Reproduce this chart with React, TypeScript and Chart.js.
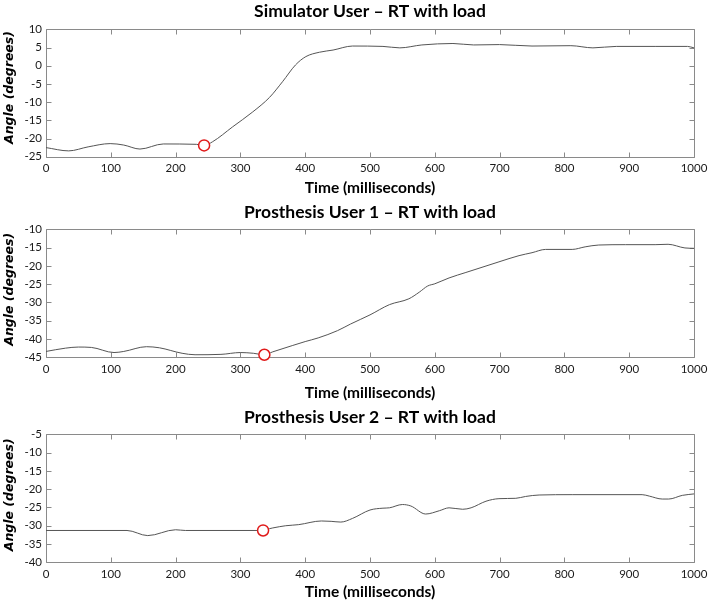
import React, { useEffect, useRef } from "react";
import { Chart, registerables } from "chart.js";

Chart.register(...registerables);

// ---------- data ----------
const xTickValues = [0, 100, 200, 300, 400, 500, 600, 700, 800, 900, 1000];

const simTime = [0, 35, 65, 99, 120, 145, 181, 232, 244, 257, 288, 319, 345, 365, 385, 401, 422, 443, 473, 520, 546, 580, 628, 660, 700, 750, 810, 844, 880, 940, 990, 1000];
const simAngle = [-22.5, -23.4, -22.3, -21.4, -21.8, -22.9, -21.5, -21.6, -21.9, -20.9, -16.8, -12.7, -8.7, -4.4, 0.2, 2.5, 3.7, 4.3, 5.4, 5.3, 4.9, 5.7, 6.1, 5.7, 5.8, 5.4, 5.5, 4.9, 5.3, 5.3, 5.3, 4.9];
const simMarker = [244, -21.9];

const p1Time = [0, 30, 50, 70, 105, 120, 155, 175, 210, 230, 270, 300, 320, 337, 350, 380, 400, 420, 450, 470, 500, 530, 560, 576, 589, 600, 622, 648, 699, 730, 750, 771, 812, 832, 853, 894, 940, 960, 986, 1000];
const p1Angle = [-43.4, -42.5, -42.2, -42.3, -43.7, -43.4, -42.1, -42.4, -43.9, -44.3, -44.2, -43.7, -43.9, -44.3, -43.5, -41.8, -40.7, -39.7, -37.7, -35.9, -33.4, -30.6, -29.0, -27.2, -25.5, -24.9, -23.3, -21.8, -18.9, -17.2, -16.4, -15.5, -15.5, -14.8, -14.3, -14.2, -14.2, -14.1, -15.1, -15.2];
const p1Marker = [337, -44.3];

const p2Time = [0, 125, 157, 200, 215, 330, 350, 370, 390, 425, 440, 455, 473, 500, 520, 530, 550, 563, 586, 607, 622, 643, 656, 679, 699, 725, 740, 761, 812, 920, 931, 951, 961, 982, 1000];
const p2Angle = [-31.3, -31.3, -32.7, -31.1, -31.3, -31.3, -30.6, -30.0, -29.7, -28.7, -28.8, -29.0, -28.0, -25.7, -25.2, -25.1, -24.2, -24.6, -26.8, -25.9, -25.1, -25.5, -25.1, -23.3, -22.6, -22.5, -22.0, -21.6, -21.5, -21.5, -21.9, -22.7, -22.7, -21.7, -21.3];
const p2Marker = [335, -31.3];

const titles = [
  "Simulator User \u2013 RT with load",
  "Prosthesis User 1 \u2013 RT with load",
  "Prosthesis User 2 \u2013 RT with load",
];
const yRanges = [
  [-25, 10],
  [-45, -10],
  [-40, -5],
];
const xAxisTitle = "Time (milliseconds)";
const yAxisTitle = "Angle (degrees)";

// ---------- layout ----------
const panels = [
  { time: simTime, angle: simAngle, marker: simMarker, top: 0, height: 200, titleY: 11, yTitleShift: -5.5, plotTop: 29.3, plotBottom: 156.7 },
  { time: p1Time, angle: p1Angle, marker: p1Marker, top: 200, height: 205, titleY: 12, yTitleShift: -4, plotTop: 29.3, plotBottom: 157.3 },
  { time: p2Time, angle: p2Angle, marker: p2Marker, top: 405, height: 199, titleY: 12.5, yTitleShift: -3.5, plotTop: 29.3, plotBottom: 157.3 },
];

const W = 708;
const PLOT_LEFT = 46;
const PLOT_RIGHT = 694;

const framePlugin = {
  id: "frame",
  beforeDatasetsDraw(chart: any) {
    const { ctx, chartArea, scales } = chart;
    const { left, right, top, bottom } = chartArea;
    const xs = scales.x;
    const ys = scales.y;
    const L = Math.round(left) + 0.5;
    const R = Math.round(right) + 0.5;
    const T = Math.round(top) + 0.5;
    const B = Math.round(bottom) + 0.5;
    const len = 5;
    ctx.save();
    ctx.strokeStyle = "#8a8a8a";
    ctx.lineWidth = 1;
    ctx.beginPath();
    ctx.rect(L, T, R - L, B - T);
    xs.ticks.forEach((t: any) => {
      const px = Math.round(xs.getPixelForValue(t.value)) + 0.5;
      ctx.moveTo(px, B);
      ctx.lineTo(px, B - len);
      ctx.moveTo(px, T);
      ctx.lineTo(px, T + len);
    });
    ys.ticks.forEach((t: any) => {
      const py = Math.round(ys.getPixelForValue(t.value)) + 0.5;
      ctx.moveTo(L, py);
      ctx.lineTo(L + len, py);
      ctx.moveTo(R, py);
      ctx.lineTo(R - len, py);
    });
    ctx.stroke();
    ctx.restore();
  },
};

const panelTextPlugin = {
  id: "panelText",
  afterDraw(chart: any, _args: any, opts: any) {
    const { ctx, chartArea } = chart;
    ctx.save();
    ctx.fillStyle = "#000000";
    ctx.font = "bold 17.5px Lato";
    ctx.textAlign = "center";
    ctx.textBaseline = "middle";
    ctx.fillText(opts.title, (chartArea.left + chartArea.right) / 2, opts.titleY);
    ctx.restore();

    ctx.save();
    ctx.fillStyle = "#000000";
    ctx.font = "italic bold 12.5px 'DejaVu Sans'";
    ctx.textAlign = "center";
    ctx.textBaseline = "middle";
    ctx.translate(10, (chartArea.top + chartArea.bottom) / 2 + opts.yTitleShift);
    ctx.rotate(-Math.PI / 2);
    ctx.fillText(opts.yTitle, 0, 0);
    ctx.restore();
  },
};

function Panel({ index }: { index: number }) {
  const ref = useRef<HTMLCanvasElement | null>(null);
  const p = panels[index];

  useEffect(() => {
    if (!ref.current) return;
    const lineData = p.time.map((t, i) => ({ x: t, y: p.angle[i] }));
    const markerData = [{ x: p.marker[0], y: p.marker[1] }];
    const chart = new Chart(ref.current, {
      type: "line",
      data: {
        datasets: [
          {
            data: markerData,
            showLine: false,
            pointRadius: 5.5,
            pointBorderWidth: 1.5,
            pointBorderColor: "#e01a1a",
            pointBackgroundColor: "#ffffff",
            borderColor: "#e01a1a",
            clip: false,
            order: 0,
          } as any,
          {
            data: lineData,
            borderColor: "#555555",
            borderWidth: 1,
            pointRadius: 0,
            cubicInterpolationMode: "monotone",
            fill: false,
            order: 1,
          } as any,
        ],
      },
      options: {
        animation: false,
        responsive: false,
        maintainAspectRatio: false,
        layout: { padding: { left: 0, right: W - PLOT_RIGHT, top: p.plotTop, bottom: 0 } },
        plugins: {
          legend: { display: false },
          tooltip: { enabled: false },
          title: { display: false },
          panelText: { title: titles[index], titleY: p.titleY, yTitle: yAxisTitle, yTitleShift: p.yTitleShift },
        },
        scales: {
          x: {
            type: "linear",
            min: 0,
            max: 1000,
            afterBuildTicks: (s: any) => {
              s.ticks = xTickValues.map((v) => ({ value: v }));
            },
            afterFit: (s: any) => {
              s.height = p.height - p.plotBottom;
              s.paddingLeft = 0;
              s.paddingRight = 0;
            },
            grid: { display: false, drawTicks: false },
            border: { display: false },
            ticks: {
              color: "#1a1a1a",
              padding: 5,
              maxRotation: 0,
              font: { family: "Lato", size: 11.5 },
              callback: (v: any) => String(v),
            },
            title: {
              display: true,
              text: xAxisTitle,
              color: "#000000",
              font: { family: "Lato", size: 15.5, weight: "bold", lineHeight: 1.2 },
              padding: { top: 0, bottom: 3 },
            },
          },
          y: {
            type: "linear",
            min: yRanges[index][0],
            max: yRanges[index][1],
            afterFit: (s: any) => {
              s.width = PLOT_LEFT;
              s.paddingTop = 0;
              s.paddingBottom = 0;
            },
            grid: { display: false, drawTicks: false },
            border: { display: false },
            ticks: {
              stepSize: 5,
              color: "#1a1a1a",
              padding: 4,
              font: { family: "Lato", size: 11.5 },
              callback: (v: any) => String(v),
            },
            title: { display: false },
          },
        },
      },
      plugins: [framePlugin, panelTextPlugin],
    } as any);
    return () => chart.destroy();
  }, [index]);

  return (
    <canvas
      ref={ref}
      width={W}
      height={p.height}
      style={{ position: "absolute", left: 0, top: p.top, width: W, height: p.height, display: "block" }}
    />
  );
}

export default function App() {
  return (
    <div style={{ position: "absolute", left: 0, top: 0, width: W, height: 603, background: "#ffffff", overflow: "hidden" }}>
      {panels.map((_, i) => (
        <Panel key={i} index={i} />
      ))}
    </div>
  );
}
